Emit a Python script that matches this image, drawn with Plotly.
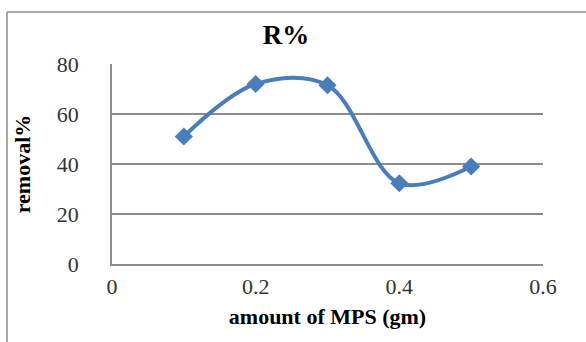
import plotly.graph_objects as go

x_vals = [0.1, 0.2, 0.3, 0.4, 0.5]
y_vals = [51, 72, 71.5, 32.3, 39]
x_ticks = [0, 0.2, 0.4, 0.6]
x_tick_text = ["0", "0.2", "0.4", "0.6"]
y_ticks = [0, 20, 40, 60, 80]

L, R, T, B = 112, 43, 64, 78
W, H = 586, 342
pw, ph = W - L - R, H - T - B

fig = go.Figure()
fig.add_trace(go.Scatter(
    x=x_vals, y=y_vals, mode="lines+markers",
    line=dict(color="#4a7ebb", width=4, shape="spline", smoothing=1),
    marker=dict(symbol="diamond", size=14, color="#4a7ebb"),
    showlegend=False, cliponaxis=False,
))

font = "Liberation Serif"
fig.update_layout(
    width=W, height=H, margin=dict(l=L, r=R, t=T, b=B),
    paper_bgcolor="white", plot_bgcolor="white",
    title=dict(text="<b>R%</b>", x=(286) / W, xanchor="center", y=1 - 35 / H, yanchor="middle",
               font=dict(family=font, size=27, color="black")),
    xaxis=dict(range=[0, 0.6], tickvals=x_ticks, ticktext=x_tick_text, showgrid=False,
               showline=True, linecolor="#8c8c8c", linewidth=1.5, ticks="", zeroline=False,
               tickfont=dict(family=font, size=22, color="#333"), ticklabelstandoff=2,
               title=dict(text="<b>amount of MPS (gm)</b>", font=dict(family=font, size=22, color="black"), standoff=10)),
    yaxis=dict(range=[0, 80], tickvals=y_ticks, showgrid=True, gridcolor="#8c8c8c", gridwidth=1.5,
               showline=True, linecolor="#8c8c8c", linewidth=1.5, ticks="", zeroline=False,
               tickfont=dict(family=font, size=22, color="#333"), ticklabelstandoff=27,
               title=dict(text="<b>removal%</b>", font=dict(family=font, size=22, color="black"), standoff=20)),
    shapes=[
        dict(type="line", xref="paper", yref="paper", x0=(7 - L) / pw, x1=(W + 5 - L) / pw,
             y0=(H - B - 12) / ph, y1=(H - B - 12) / ph, line=dict(color="#8c8c8c", width=1.5)),
        dict(type="line", xref="paper", yref="paper", x0=(7 - L) / pw, x1=(7 - L) / pw,
             y0=(H - B - 12) / ph, y1=(H - B - H - 5) / ph, line=dict(color="#8c8c8c", width=1.5)),
    ],
)
fig.write_html("out.html")
